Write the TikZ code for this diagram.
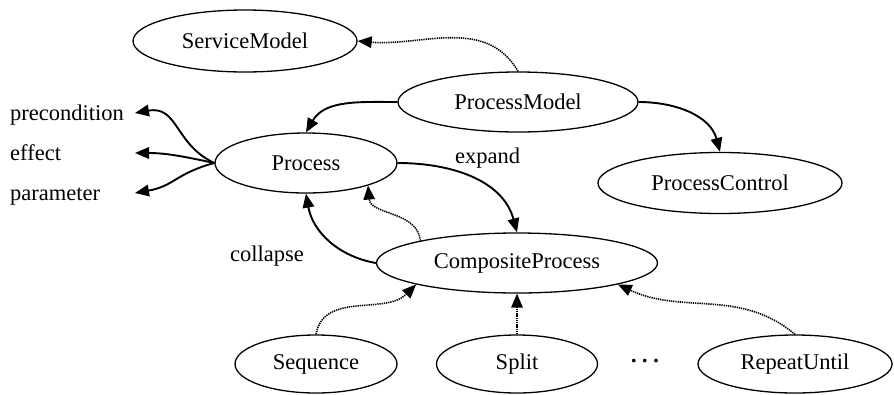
\documentclass[tikz,border=0pt]{standalone}
\usepackage{fontspec}
\setmainfont{Liberation Serif}
\usetikzlibrary{shapes.geometric,arrows.meta}
\begin{document}
\begin{tikzpicture}[x=1pt,y=1pt,
  font=\fontsize{22.5}{26}\selectfont,
  concept/.style={ellipse,draw,line width=1.3pt,inner sep=0pt},
  lbl/.style={inner sep=0pt},
  tip/.style={-{Triangle[length=14pt,width=11.5pt]}},
  link/.style={tip,line width=1.9pt},
  weak/.style={tip,line width=1.6pt,dash pattern=on 1.3pt off 0.9pt}]
\useasboundingbox (0,0) rectangle (894,-394);

% concepts of the process ontology
\node[concept,minimum width=224pt,minimum height=62pt] (sm)  at (245,-41)  {ServiceModel};
\node[concept,minimum width=240pt,minimum height=60pt] (pm)  at (518,-102) {ProcessModel};
\node[concept,minimum width=244pt,minimum height=61pt] (pc)  at (720,-183) {ProcessControl};
\node[concept,minimum width=182pt,minimum height=60pt] (p)   at (306,-163) {Process};
\node[concept,minimum width=281pt,minimum height=60pt] (cp)  at (517,-263) {CompositeProcess};
\node[concept,minimum width=162pt,minimum height=58pt] (seq) at (316,-364) {Sequence};
\node[concept,minimum width=161pt,minimum height=58pt] (spl) at (517,-364) {Split};
\node[concept,minimum width=194pt,minimum height=58pt] (ru)  at (795,-364) {RepeatUntil};
\node (dots) at (645,-364) {\bfseries ·\,·\,·};

% properties of Process and edge labels
\node[lbl,anchor=base west] (prec) at (10,-120) {precondition};
\node[lbl,anchor=base west] (eff)  at (10,-160) {effect};
\node[lbl,anchor=base west] (par)  at (10,-200) {parameter};
\node[lbl,anchor=base west] (expand)   at (455,-163) {expand};
\node[lbl,anchor=base west] (collapse) at (230,-261) {collapse};
\coordinate (precTip) at (135,-113);
\coordinate (effTip)  at (135,-153);
\coordinate (parTip)  at (135,-193);

% relations
\draw[weak] (pm.north) to[out=120,in=-5] (sm.east);
\draw[link] (pm.west) to[out=180,in=60] (p.north);
\draw[link] (pm.east) to[out=0,in=105] (pc.north);
\draw[link] (p.east) to[out=0,in=105] (cp.north);
\draw[link] (cp.west) to[out=170,in=-80] (p.south);
\draw[weak] (cp.167) to[out=95,in=-85] (p.-20);
\draw[weak] (seq.north) to[out=80,in=225] (cp.192);
\draw[weak] (spl.north) -- (cp.south);
\draw[weak] (ru.north) to[out=140,in=-25] (cp.-12);

\draw[link] (p.west) to[out=155,in=10,looseness=1.2] (precTip);
\draw[link] (p.west) to[out=168,in=0] (effTip);
\draw[link] (p.west) to[out=195,in=10,looseness=1.2] (parTip);
\end{tikzpicture}
\end{document}
